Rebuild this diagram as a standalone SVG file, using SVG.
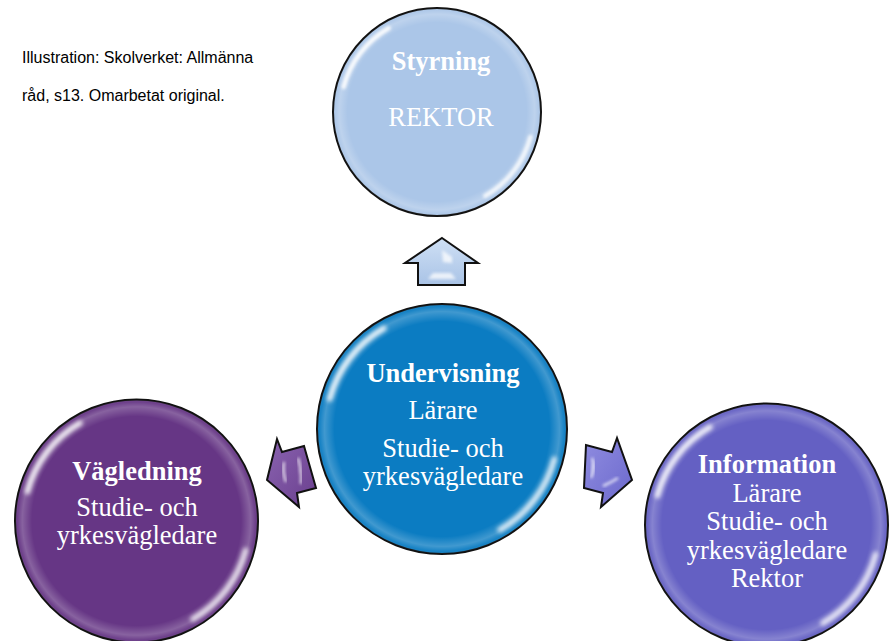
<svg xmlns="http://www.w3.org/2000/svg" xmlns:xlink="http://www.w3.org/1999/xlink" width="891" height="641" viewBox="0 0 891 641">
  <style>
    .ring { stroke: #111; stroke-width: 2; }
    .t { font-family: "Liberation Serif", "Times New Roman", serif; font-size: 26.5px; fill: #ffffff; text-anchor: middle; }
    .b { font-weight: bold; }
    .cap { font-family: "Liberation Sans", Arial, sans-serif; font-size: 16px; fill: #000; }
    .arrow { stroke: #111; stroke-width: 2; stroke-linejoin: miter; }
    .hl { fill: #ffffff; opacity: 0.75; }
  </style>
  <defs>
    <radialGradient id="rim" cx="0" cy="0" r="100" gradientUnits="userSpaceOnUse">
      <stop offset="0" stop-color="#ffffff" stop-opacity="0"/>
      <stop offset="0.86" stop-color="#ffffff" stop-opacity="0"/>
      <stop offset="0.94" stop-color="#ffffff" stop-opacity="0.22"/>
      <stop offset="0.98" stop-color="#ffffff" stop-opacity="0.05"/>
      <stop offset="1" stop-color="#000000" stop-opacity="0.2"/>
    </radialGradient>
    <filter id="blur" x="-20%" y="-20%" width="140%" height="140%">
      <feGaussianBlur stdDeviation="1.6"/>
    </filter>
    <g id="gloss">
      <circle r="100" fill="url(#rim)"/>
      <path d="M -89.8 -24.1 A 93 93 0 0 1 -46.5 -80.5" fill="none" stroke="#fff" stroke-width="4.5" stroke-linecap="round" opacity="0.9" filter="url(#blur)"/>
      <path d="M 89.8 24.1 A 93 93 0 0 1 46.5 80.5" fill="none" stroke="#fff" stroke-width="4.5" stroke-linecap="round" opacity="0.8" filter="url(#blur)"/>
    </g>
    <linearGradient id="gUp" x1="0" y1="0" x2="0" y2="1">
      <stop offset="0" stop-color="#cfe0f5"/>
      <stop offset="1" stop-color="#a9c3e6"/>
    </linearGradient>
    <linearGradient id="gLeft" x1="0" y1="0" x2="1" y2="1">
      <stop offset="0" stop-color="#8a63b0"/>
      <stop offset="1" stop-color="#6a3f8e"/>
    </linearGradient>
    <linearGradient id="gRight" x1="0" y1="0" x2="1" y2="1">
      <stop offset="0" stop-color="#8f8ce0"/>
      <stop offset="1" stop-color="#6b68cc"/>
    </linearGradient>
  </defs>

  <g id="caption">
    <text class="cap" x="22" y="63">Illustration: Skolverket: Allmänna</text>
    <text class="cap" x="22" y="101">råd, s13. Omarbetat original.</text>
  </g>

  <g id="connectors">
    <g id="arrow-up">
      <polygon class="arrow" fill="url(#gUp)" points="442,238 478,263 465,263 465,285 418,285 418,263 405,263"/>
      <polygon class="hl" points="428,279 456,279 451,273 433,273" filter="url(#blur)"/>
      <polygon class="hl" points="442,250 452,257 452,263 443,262" opacity="0.6" filter="url(#blur)"/>
    </g>
    <g id="arrow-left">
      <polygon class="arrow" fill="url(#gLeft)" points="277,439 282,452 304,446 316,488 297,493 299,507 267,480"/>
      <path class="hl" d="M 284 462 Q 282 472 286 482" fill="none" stroke="#fff" stroke-width="2.5" filter="url(#blur)"/>
      <path class="hl" d="M 298 458 Q 302 470 301 484" fill="none" stroke="#fff" stroke-width="2.5" filter="url(#blur)"/>
    </g>
    <g id="arrow-right">
      <polygon class="arrow" fill="url(#gRight)" points="617,438 612,452 586,445 584,488 603,493 601,507 632,480"/>
      <path class="hl" d="M 592 458 Q 596 466 591 478" fill="none" stroke="#fff" stroke-width="2.5" filter="url(#blur)"/>
      <path class="hl" d="M 603 486 Q 612 482 618 478" fill="none" stroke="#fff" stroke-width="2.5" filter="url(#blur)"/>
    </g>
  </g>

  <g id="node-styrning">
    <circle class="ring" cx="437" cy="112" r="104" fill="#abc6e8"/>
    <use xlink:href="#gloss" transform="translate(437 112) scale(1.04)"/>
    <text class="t b" x="441" y="70">Styrning</text>
    <text class="t" x="441" y="126">REKTOR</text>
  </g>

  <g id="node-undervisning">
    <circle class="ring" cx="442" cy="429" r="125" fill="#0b7cc2"/>
    <use xlink:href="#gloss" transform="translate(442 429) scale(1.25)"/>
    <text class="t b" x="443" y="382">Undervisning</text>
    <text class="t" x="443" y="419">Lärare</text>
    <text class="t" x="443" y="457">Studie- och</text>
    <text class="t" x="443" y="485">yrkesvägledare</text>
  </g>

  <g id="node-vagledning">
    <circle class="ring" cx="136.5" cy="521" r="121.5" fill="#663685"/>
    <use xlink:href="#gloss" transform="translate(136.5 521) scale(1.215)"/>
    <text class="t b" x="137" y="480">Vägledning</text>
    <text class="t" x="137" y="516">Studie- och</text>
    <text class="t" x="137" y="544">yrkesvägledare</text>
  </g>

  <g id="node-information">
    <circle class="ring" cx="766.5" cy="525" r="121.5" fill="#6460c3"/>
    <use xlink:href="#gloss" transform="translate(766.5 525) scale(1.215)"/>
    <text class="t b" x="767" y="473">Information</text>
    <text class="t" x="767" y="502">Lärare</text>
    <text class="t" x="767" y="530">Studie- och</text>
    <text class="t" x="767" y="559">yrkesvägledare</text>
    <text class="t" x="767" y="587">Rektor</text>
  </g>
</svg>
